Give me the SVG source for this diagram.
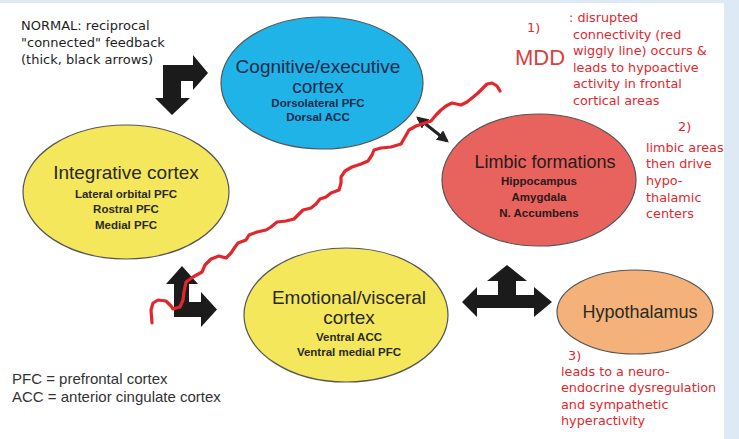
<svg xmlns="http://www.w3.org/2000/svg" width="739" height="439" viewBox="0 0 739 439">
<style>
.node{stroke:#555;stroke-width:1.2}
.h{font-family:"Liberation Sans",Arial,sans-serif;font-size:19px;text-anchor:middle}
.s{font-family:"Liberation Sans",Arial,sans-serif;font-size:11.5px;font-weight:bold;text-anchor:middle}
.red{font-family:"DejaVu Sans","Liberation Sans",sans-serif;font-size:12.8px;fill:#e0282e}
.note{font-family:"DejaVu Sans","Liberation Sans",sans-serif;font-size:13px;fill:#1e1e1e}
.leg{font-family:"Liberation Sans",Arial,sans-serif;font-size:15px;fill:#333}
.blk{fill:#1b1b1b}
</style>
<defs>
<marker id="ah" viewBox="0 0 10 10" refX="8" refY="5" markerWidth="4" markerHeight="4" orient="auto-start-reverse"><path d="M0,0 L10,5 L0,10 Z" fill="#222"/></marker>
</defs>
<rect x="0" y="0" width="739" height="439" fill="#dde9f5"/>
<rect x="0" y="3" width="724" height="436" fill="#ffffff"/>

<g id="cognitive">
<ellipse class="node" cx="322" cy="83" rx="101" ry="66" fill="#1fb3e8"/>
<text class="h" x="318" y="73" fill="#1b2a4a">Cognitive/executive</text>
<text class="h" x="318" y="93" fill="#1b2a4a">cortex</text>
<text class="s" x="318" y="107" fill="#1b2a4a">Dorsolateral PFC</text>
<text class="s" x="318" y="121" fill="#1b2a4a">Dorsal ACC</text>
</g>

<g id="integrative">
<ellipse class="node" cx="126" cy="192" rx="103" ry="67" fill="#f4e75c"/>
<text class="h" x="126" y="179" fill="#2a2a1e">Integrative cortex</text>
<text class="s" x="126" y="198" fill="#2a2a1e">Lateral orbital PFC</text>
<text class="s" x="126" y="213" fill="#2a2a1e">Rostral PFC</text>
<text class="s" x="126" y="229" fill="#2a2a1e">Medial PFC</text>
</g>

<g id="limbic">
<ellipse class="node" cx="539" cy="180" rx="97" ry="66" fill="#e8625e"/>
<text class="h" x="545" y="168" fill="#2a1a1a" style="font-size:18px">Limbic formations</text>
<text class="s" x="539" y="185" fill="#2a1a1a">Hippocampus</text>
<text class="s" x="539" y="201" fill="#2a1a1a">Amygdala</text>
<text class="s" x="539" y="217" fill="#2a1a1a">N. Accumbens</text>
</g>

<g id="emotional">
<ellipse class="node" cx="346" cy="315" rx="102" ry="67" fill="#f4e75c"/>
<text class="h" x="349" y="304" fill="#2a2a1e">Emotional/visceral</text>
<text class="h" x="349" y="324" fill="#2a2a1e">cortex</text>
<text class="s" x="349" y="341" fill="#2a2a1e">Ventral ACC</text>
<text class="s" x="349" y="356" fill="#2a2a1e">Ventral medial PFC</text>
</g>

<g id="hypothalamus">
<ellipse class="node" cx="635" cy="312" rx="78" ry="42" fill="#f4b27a"/>
<text class="h" x="640" y="318" fill="#2a2a1e" style="font-size:18px">Hypothalamus</text>
</g>

<g id="connectors">
<path class="blk" d="M163,65 L193,65 L193,55 L208,73 L193,90 L193,81 L181,81 L181,98 L190,98 L172,115 L155,98 L163,98 Z"/>
<path class="blk" d="M174,284 L166,284 L182,266 L198,284 L189,284 L189,302 L201,302 L201,292 L217,309.5 L201,327 L201,317 L174,317 Z"/>
<path class="blk" d="M462,302 L477,287 L477,295 L498,295 L498,281 L487,281 L507,265 L527,281 L516,281 L516,295 L534,295 L534,287 L552,302 L534,317 L534,308 L477,308 L477,317 Z"/>
<line x1="418" y1="118" x2="447" y2="141" stroke="#222" stroke-width="3" marker-start="url(#ah)" marker-end="url(#ah)"/>
<path d="M152,323 L151,310 L153,303 L158,300 L166,301 L171,306 L173,309 L180,307 L183,300 L184,292 L186,282 L193,277 L202,272 L205,265 L211,259 L219,256 L226,258 L231,253 L235,247 L238,243 L246,240 L249,235 L257,232 L266,230 L271,227 L277,222 L286,221 L294,219 L300,213 L303,210 L311,208 L316,204 L320,199 L326,197 L331,193 L339,190 L341,183 L341,177 L345,171 L352,167 L361,164 L368,161 L372,155 L374,150 L381,148 L391,147 L401,144 L405,137 L409,130 L416,126 L425,123 L431,121 L436,115 L441,110 L446,106 L452,103 L461,105 L467,102 L472,98 L478,93 L483,88 L487,84 L492,83 L497,86 L500,91" fill="none" stroke="#e3262b" stroke-width="3.2" stroke-linejoin="round" stroke-linecap="round"/>
</g>

<g id="notes">
<text class="note"><tspan x="21" y="30">NORMAL: reciprocal</tspan><tspan x="21" y="47">"connected" feedback</tspan><tspan x="21" y="64">(thick, black arrows)</tspan></text>
<text class="red" x="527" y="32">1)</text>
<text x="515" y="65" font-family="Liberation Sans,Arial,sans-serif" font-size="22" fill="#d94040">MDD</text>
<text class="red"><tspan x="569" y="22">: disrupted</tspan><tspan x="573" y="39">connectivity (red</tspan><tspan x="573" y="55">wiggly line) occurs &amp;</tspan><tspan x="573" y="72">leads to hypoactive</tspan><tspan x="573" y="88">activity in frontal</tspan><tspan x="573" y="105">cortical areas</tspan></text>
<text class="red"><tspan x="678" y="131">2)</tspan><tspan x="646" y="152">limbic areas</tspan><tspan x="646" y="168">then drive</tspan><tspan x="646" y="185">hypo-</tspan><tspan x="646" y="202">thalamic</tspan><tspan x="646" y="218">centers</tspan></text>
<text class="red"><tspan x="568" y="360">3)</tspan><tspan x="561" y="376">leads to a neuro-</tspan><tspan x="561" y="392">endocrine dysregulation</tspan><tspan x="561" y="409">and sympathetic</tspan><tspan x="561" y="425">hyperactivity</tspan></text>
<text class="leg"><tspan x="12" y="384">PFC = prefrontal cortex</tspan><tspan x="12" y="402">ACC = anterior cingulate cortex</tspan></text>
</g>
</svg>
